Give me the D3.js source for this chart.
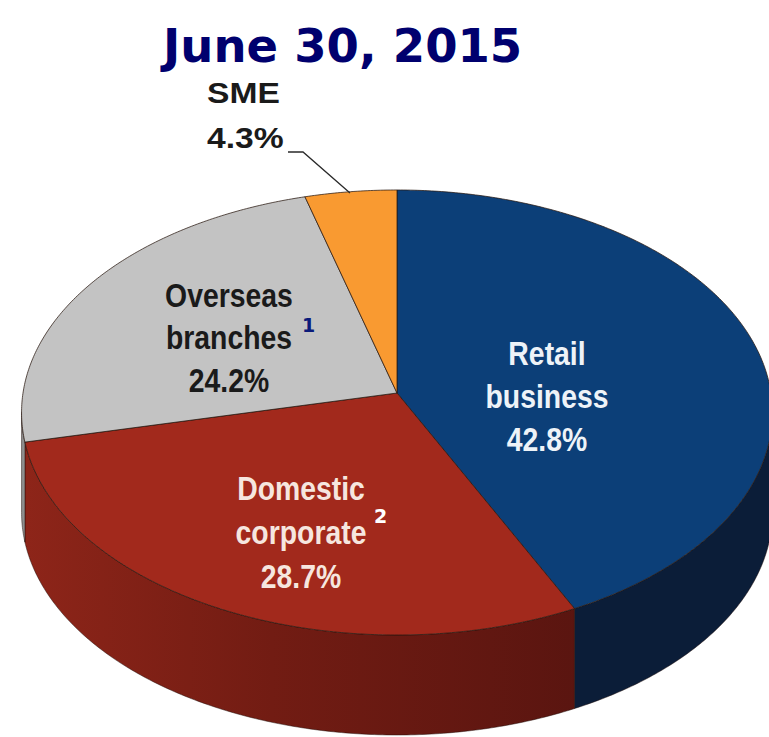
<!DOCTYPE html>
<html>
<head>
<meta charset="utf-8">
<script src="https://cdn.jsdelivr.net/npm/d3@7"></script>
<style>
  html, body { margin: 0; padding: 0; background: #ffffff; }
  svg { display: block; }
</style>
</head>
<body>
<svg id="chart" width="769" height="737"></svg>
<script>
// ---- data ----
const title = "June 30, 2015";
const categories = ["Retail business", "Domestic corporate", "Overseas branches", "SME"];
const values = [42.8, 28.7, 24.2, 4.3];
const labelWords = [["Retail", "business"], ["Domestic", "corporate"], ["Overseas", "branches"], ["SME"]];
const footnotes = ["", "2", "1", ""];

// ---- style / layout ----
const topColors = ["#0c3f78", "#a2291c", "#c3c3c3", "#f99a31"];
const sideColors = ["#0b1d38", "url(#redSide)", "#8f8f8f", "#c06a18"];
const textColors = ["#eef3f8", "#f6e6df", "#1a1a1a", "#1a1a1a"];
const supColors = ["#ffffff", "#ffffff", "#0a1a7a", "#000000"];

const cx = 397, cy = 393, A = 374, B = 220.8, K = 0.0876, depth = 100;

const svg = d3.select("#chart");
const defs = svg.append("defs");
const g1 = defs.append("linearGradient").attr("id", "redSide")
  .attr("gradientUnits", "userSpaceOnUse").attr("x1", 20).attr("x2", 580).attr("y1", 0).attr("y2", 0);
g1.append("stop").attr("offset", 0).attr("stop-color", "#8e2519");
g1.append("stop").attr("offset", 0.45).attr("stop-color", "#721c13");
g1.append("stop").attr("offset", 1).attr("stop-color", "#5a1510");

// perspective projection of a point on the pie disc (theta clockwise from 12 o'clock)
function proj(theta, r = 1, dy = 0) {
  const u = r * Math.sin(theta), v = r * Math.cos(theta), w = 1 + K * v;
  return [cx + A * u / w, cy - B * v / w + dy];
}
function arcPts(a0, a1, dy = 0) {
  const n = Math.max(2, Math.ceil(Math.abs(a1 - a0) / 0.01));
  return d3.range(n + 1).map(i => proj(a0 + (a1 - a0) * i / n, 1, dy));
}

const pie = d3.pie().sort(null).startAngle(0).endAngle(2 * Math.PI);
const arcs = pie(values);
const line = d3.line();

// visible side wall range (where screen-x is extremal)
const vis0 = Math.acos(-K), vis1 = 2 * Math.PI - Math.acos(-K);

const sides = svg.append("g");
arcs.forEach((a, i) => {
  const s = Math.max(a.startAngle, vis0), e = Math.min(a.endAngle, vis1);
  if (e <= s) return;
  const pts = arcPts(s, e).concat(arcPts(e, s, depth));
  sides.append("path")
    .attr("d", line(pts) + "Z")
    .attr("fill", sideColors[i])
    .attr("stroke", "#1e0a06").attr("stroke-opacity", 0.6).attr("stroke-width", 0.8);
});

const tops = svg.append("g");
arcs.forEach((a, i) => {
  const pts = [proj(0, 0)].concat(arcPts(a.startAngle, a.endAngle));
  tops.append("path")
    .attr("d", line(pts) + "Z")
    .attr("fill", topColors[i])
    .attr("stroke", "#2a1a12").attr("stroke-opacity", 0.75).attr("stroke-width", 1);
});

// ---- title ----
svg.append("text")
  .attr("x", 163).attr("y", 62)
  .attr("font-family", "'DejaVu Sans', Verdana, sans-serif")
  .attr("font-weight", "bold").attr("font-size", 46.5)
  .attr("fill", "#00006e")
  .text(title);

// ---- labels ----
const fmt = v => d3.format(".1f")(v) + "%";
const labelPos = [
  { x: 547, y: 365, anchor: "middle", sup: null },
  { x: 301, y: 500, anchor: "middle", sup: [374, 523] },
  { x: 229, y: 307, anchor: "middle", sup: [302, 332] },
  { x: 207, y: 103, anchor: "start", sup: null }
];
const lineGap = [43, 44, 42.5, 45];

arcs.forEach((a, i) => {
  const p = labelPos[i];
  const lines = labelWords[i].concat([fmt(values[i])]);
  const isSme = i === 3;
  const sx = isSme ? 1.14 : 0.86;
  const t = svg.append("text")
    .attr("transform", `translate(${p.x},${p.y}) scale(${sx},1)`)
    .attr("text-anchor", p.anchor)
    .attr("font-family", "'Liberation Sans', Arial, sans-serif")
    .attr("font-weight", "bold")
    .attr("font-size", isSme ? 29.5 : 33)
    .attr("fill", textColors[i]);
  lines.forEach((s, j) => {
    t.append("tspan").attr("x", 0).attr("y", j * lineGap[i]).text(s);
  });
  if (p.sup && footnotes[i]) {
    svg.append("text")
      .attr("x", p.sup[0]).attr("y", p.sup[1])
      .attr("font-family", "'DejaVu Sans', Verdana, sans-serif")
      .attr("font-weight", "bold").attr("font-size", 19)
      .attr("fill", supColors[i])
      .text(footnotes[i]);
  }
});

// SME leader line
svg.append("path")
  .attr("d", line([[288, 152], [303, 152], [350, 193]]))
  .attr("fill", "none").attr("stroke", "#2a2a2a").attr("stroke-width", 1.3);
</script>
</body>
</html>
